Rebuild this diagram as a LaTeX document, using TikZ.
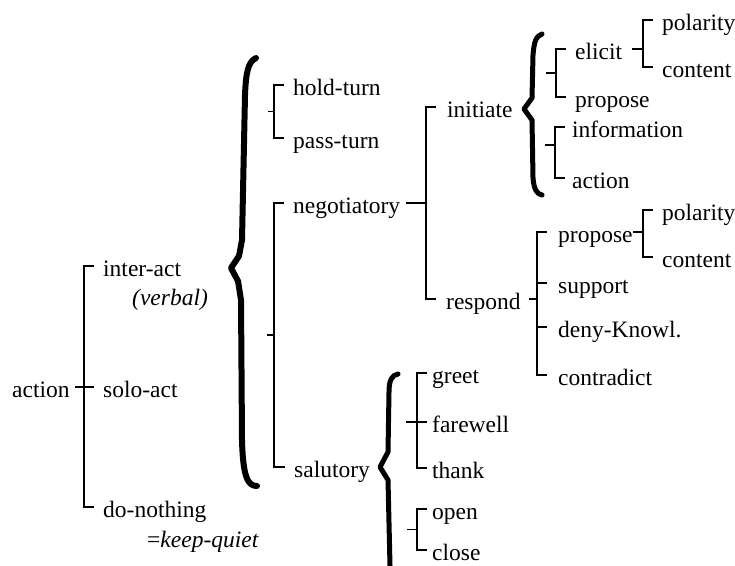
\documentclass[tikz,border=0pt]{standalone}
\usepackage{fontspec}
\setmainfont{Liberation Serif}
\usetikzlibrary{calc}

\begin{document}
\begin{tikzpicture}[x=1pt, y=-1pt,
  opt/.style={anchor=west, inner sep=0pt, text height=20pt, text depth=0pt,
    font=\fontsize{23.5}{26}\selectfont},
  note/.style={opt, font=\fontsize{23.5}{26}\selectfont\itshape},
  sysline/.style={line width=1.6pt},
  brace/.style={line width=5pt, line cap=round, line join=round}]
  \useasboundingbox (0,0) rectangle (735,565);

  % --- first level ---
  \node[opt] (act) at (12,387) {action};
  \node[opt] (inter) at (103,266) {inter-act};
  \node[note] (verbal) at (132,295) {(verbal)};
  \node[opt] (solo) at (103,387) {solo-act};
  \node[opt] (nothing) at (103,507) {do-nothing};
  \node[opt] (quiet) at (147,537) {=\textit{keep-quiet}};
  \draw[sysline] ([xshift=5pt]act.east) -- ($(act.east -| inter.west)+(-19,0)$);
  \draw[sysline] ([xshift=-9pt]inter.west) -- ++(-10,0) |- ([xshift=-9pt]nothing.west);
  \draw[sysline] ([xshift=-9pt]solo.west) -- ++(-10,0);

  % big brace
  \draw[brace, line width=6pt] (256,58) .. controls (248,62) and (246,72) .. (245,95)
    -- (242,240) -- (239,256) -- (231,268) -- (238,281) -- (241,300) -- (242,440)
    .. controls (243,478) and (248,486) .. (257,486);

  % --- turn ---
  \node[opt] (hold) at (293,85) {hold-turn};
  \node[opt] (pass) at (293,138) {pass-turn};
  \draw[sysline] ([xshift=-9pt]hold.west) -- ++(-10,0) |- ([xshift=-9pt]pass.west);
  \draw[sysline] ($(hold.west)!0.5!(pass.west)+(-19,0)$) -- ++(-6,0);

  % --- negotiatory / salutory ---
  \node[opt] (nego) at (293,203) {negotiatory};
  \node[opt] (salu) at (294,467) {salutory};
  \draw[sysline] ([xshift=-9pt]nego.west) -- ++(-10,0) |- ([xshift=-9pt]salu.west);
  \draw[sysline] ($(nego.west)!0.5!(salu.west)+(-19,0)$) -- ++(-8,0);

  % --- initiate / respond ---
  \node[opt] (init) at (447,107) {initiate};
  \node[opt] (resp) at (446,299) {respond};
  \draw[sysline] ($(nego.east)+(6,0)$) -- ($(nego.east -| init.west)+(-21,0)$);
  \draw[sysline] ([xshift=-11pt]init.west) -- ++(-10,0) |- ([xshift=-10pt]resp.west);

  % initiate brace
  \draw[brace] (542,34) .. controls (536,36) and (534,42) .. (533,55) -- (532,98)
    -- (524,109) -- (532,120) -- (533,178) .. controls (534,190) and (537,194) .. (542,195);

  \node[opt] (elic) at (575,49) {elicit};
  \node[opt] (propI) at (575,97) {propose};
  \draw[sysline] ([xshift=-9pt]elic.west) -- ++(-10,0) |- ([xshift=-9pt]propI.west);
  \draw[sysline] ($(elic.west)!0.5!(propI.west)+(-19,0)$) -- ++(-10,0);

  \node[opt] (info) at (572,127) {information};
  \node[opt] (actn) at (572,178) {action};
  \draw[sysline] ([xshift=-7pt]info.west) -- ++(-10,0) |- ([xshift=-7pt]actn.west);
  \draw[sysline] ($(info.west)!0.35!(actn.west)+(-17,0)$) -- ++(-10,0);

  \node[opt] (pol1) at (662,20) {polarity};
  \node[opt] (con1) at (662,67) {content};
  \draw[sysline] ([xshift=10pt]elic.east) -- ($(elic.east -| pol1.west)+(-19,0)$);
  \draw[sysline] ([xshift=-9pt]pol1.west) -- ++(-10,0) |- ([xshift=-9pt]con1.west);

  % --- respond options ---
  \node[opt] (propR) at (558,232) {propose};
  \node[opt] (supp) at (558,283) {support};
  \node[opt] (deny) at (558,327) {deny-Knowl.};
  \node[opt] (contr) at (558,375) {contradict};
  \draw[sysline] ([xshift=8pt]resp.east) -- ($(resp.east -| propR.west)+(-21,0)$);
  \draw[sysline] ([xshift=-11pt]propR.west) -- ++(-10,0) |- ([xshift=-11pt]contr.west);
  \draw[sysline] ([xshift=-11pt]supp.west) -- ++(-10,0);
  \draw[sysline] ([xshift=-11pt]deny.west) -- ++(-10,0);

  \node[opt] (pol2) at (662,210) {polarity};
  \node[opt] (con2) at (662,257) {content};
  \draw[sysline] (propR.east) -- ($(propR.east -| pol2.west)+(-19,0)$);
  \draw[sysline] ([xshift=-9pt]pol2.west) -- ++(-10,0) |- ([xshift=-9pt]con2.west);

  % --- salutory ---
  \draw[brace] (398,374) .. controls (392,375) and (389,380) .. (389,392) -- (388,452)
    -- (380,467) -- (388,480) -- (390,566);

  \node[opt] (greet) at (432,373) {greet};
  \node[opt] (fare) at (432,422) {farewell};
  \node[opt] (thank) at (432,468) {thank};
  \draw[sysline] ([xshift=-5pt]greet.west) -- ++(-10,0) |- ([xshift=-5pt]thank.west);
  \draw[sysline] ([xshift=-5pt]fare.west) -- ++(-21,0);

  \node[opt] (open) at (432,509) {open};
  \node[opt] (close) at (432,550) {close};
  \draw[sysline] ([xshift=-5pt]open.west) -- ++(-10,0) |- ([xshift=-5pt]close.west);
  \draw[sysline] ($(open.west)!0.5!(close.west)+(-15,0)$) -- ++(-10,0);
\end{tikzpicture}
\end{document}
